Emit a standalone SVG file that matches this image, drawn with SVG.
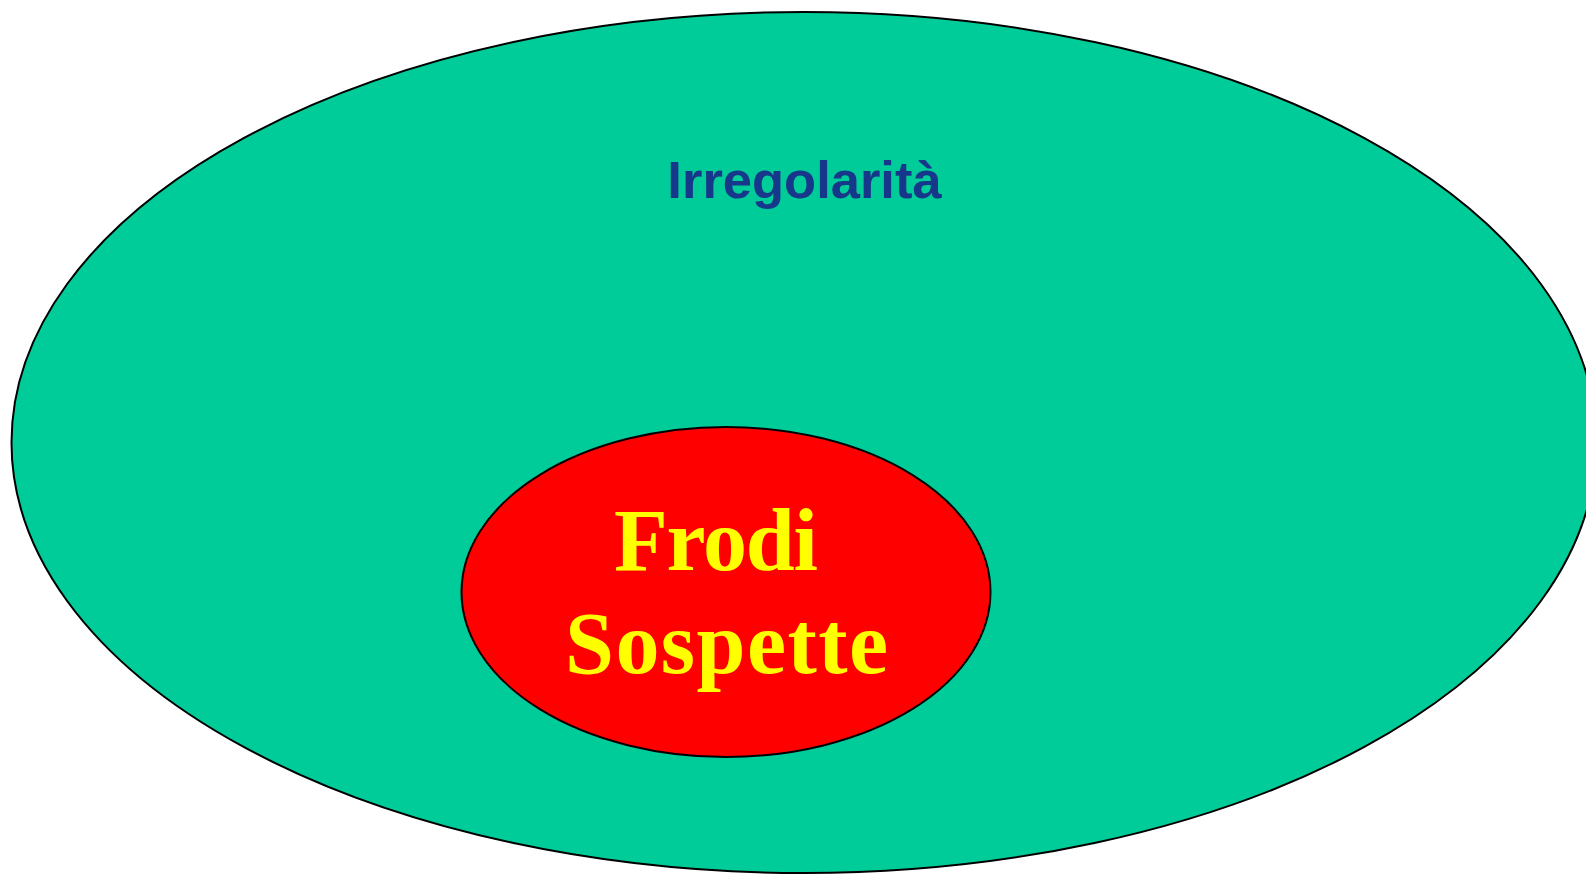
<svg xmlns="http://www.w3.org/2000/svg" width="1586" height="874" viewBox="0 0 1586 874">
<style>
.outline{stroke:#000;stroke-width:2}
.t1{font-family:"Liberation Sans",Arial,sans-serif;font-weight:bold;font-size:52.5px;fill:#17388a}
.t2{font-family:"Liberation Serif","Times New Roman",serif;font-weight:bold;font-size:88px;fill:#ffff00}
</style>
<rect width="1586" height="874" fill="#fff"/>
<g id="irregolarita">
<ellipse class="outline" cx="804" cy="442.5" rx="792.5" ry="430.5" fill="#00cc99"/>
<text class="t1" x="804.5" y="198" text-anchor="middle">Irregolarità</text>
</g>
<g id="frodi">
<ellipse class="outline" cx="726" cy="592" rx="264.5" ry="165" fill="#ff0000"/>
<text class="t2" x="614" y="570" textLength="204" lengthAdjust="spacing">Frodi</text>
<text class="t2" x="565" y="673" textLength="323" lengthAdjust="spacing">Sospette</text>
</g>
<g id="connectors"/>
</svg>
